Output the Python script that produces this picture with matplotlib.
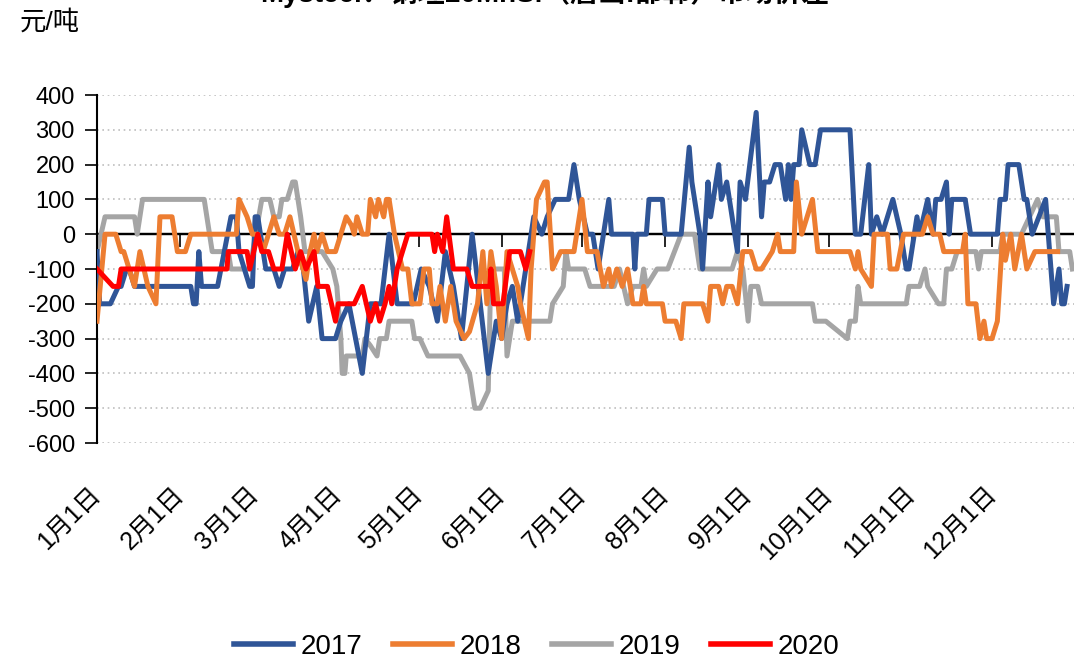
import matplotlib
matplotlib.use("Agg")
import matplotlib.pyplot as plt
from matplotlib.lines import Line2D

plt.rcParams['font.family'] = ['Liberation Sans', 'Noto Sans CJK SC', 'DejaVu Sans']
plt.rcParams['axes.unicode_minus'] = False

# x = day of year (0 = 1月1日), y = 元/吨
days_2017 = [0, 1, 5, 8, 9, 11, 12, 14, 35, 36, 37, 38, 39, 45, 50, 52, 53, 57, 58, 59, 60, 62, 63, 66,
             68, 70, 73, 75, 77, 79, 82, 84, 89, 91, 94, 99, 102, 106, 109, 112, 118, 121, 124, 127,
             130, 133, 136, 138, 140, 146, 149, 151, 153, 155, 157, 162, 163, 166, 168, 171, 176, 178,
             180, 183, 185, 187, 191, 192, 200, 200.7, 201.5, 205, 206, 211, 212, 218, 221, 222, 225,
             226, 228, 229, 232, 233, 235, 238, 239, 240, 242, 246, 248, 249, 251, 253, 255, 257, 258,
             259, 260, 262, 263, 266, 268, 270, 281, 283, 285, 288, 289, 291, 293, 297, 300, 302, 303,
             306, 307, 310, 312, 313, 315, 317, 318, 319, 324, 326, 336, 337, 339, 340, 344, 346, 347,
             349, 354, 357, 359, 360, 361, 362]
vals_2017 = [-50, -200, -200, -150, -150, -100, -100, -150, -150, -200, -200, -50, -150, -150, 50, 50,
             -50, -150, -150, 50, 50, -50, -100, -100, -150, -100, -100, -50, -100, -250, -150, -300,
             -300, -250, -200, -400, -200, -200, 0, -200, -200, -100, -150, -250, -50, -150, -300, -150,
             0, -400, -250, -300, -200, -150, -250, 0, 50, 0, 50, 100, 100, 200, 100, 0, 0, -100, 100,
             0, 0, -100, 0, 0, 100, 100, 0, 0, 250, 150, 0, -100, 150, 50, 200, 100, 150, 0, -50, 150,
             100, 350, 50, 150, 150, 200, 200, 100, 200, 100, 200, 200, 300, 200, 200, 300, 300, 0, 0,
             200, 0, 50, 0, 100, 0, -100, -100, 50, 0, 100, 0, 100, 100, 150, 0, 100, 100, 0, 0, 100,
             100, 200, 200, 100, 100, 0, 100, -200, -100, -200, -200, -150]

days_2018 = [0, 3, 7, 9, 10, 12, 14, 16, 19, 22, 23.5, 28, 30, 33, 35, 52, 53, 56, 58, 60, 62, 66, 68,
             70, 72, 75, 78, 79.5, 81, 82, 84, 86, 89, 93, 95, 96, 97, 99, 101, 102, 104, 105, 107, 108,
             109, 111, 114, 116, 117.5, 120.5, 122, 124, 125, 127, 128, 130, 132, 134, 137, 139, 142,
             144, 145.5, 147, 149, 151, 153, 157, 158, 161, 162, 164, 167, 168, 170, 173, 178, 181, 183,
             186.6, 189, 191, 192, 194, 196, 198, 200, 203, 204, 205, 211, 212, 216, 218, 219, 226, 228,
             229, 232, 233.5, 235, 237, 239, 241, 244, 246, 248, 252, 254, 255, 260, 261, 263, 267, 269,
             281, 283, 284, 285, 289, 290, 295, 296, 298.5, 301, 308, 310, 312, 314.5, 316, 323, 324,
             325, 328, 329.5, 331, 332, 334, 336, 338, 339, 341, 342.5, 345, 347, 350, 358.5]
vals_2018 = [-250, 0, 0, -50, -50, -100, -150, -50, -150, -200, 50, 50, -50, -50, 0, 0, 100, 50, 0, 0,
             -50, 50, 0, 0, 50, -50, -130, -50, 0, -50, 0, -50, -50, 50, 25, 0, 50, 0, 0, 100, 50, 100,
             50, 100, 100, 0, -100, -100, -200, -200, -100, -100, -200, -200, -150, -250, -150, -250,
             -300, -280, -200, -50, -200, -50, -150, -300, -50, -150, -200, -300, -100, 100, 150, 150,
             -100, -50, -50, 100, -50, -50, -150, -100, -150, -100, -150, -100, -200, -200, -150, -200,
             -200, -250, -250, -300, -200, -200, -250, -150, -150, -200, -150, -150, -200, -50, -50,
             -100, -100, -50, 0, -50, -50, 150, 0, 100, -50, -50, -100, -50, -100, -150, 0, 0, -100,
             -100, 0, 0, 50, 0, 0, -50, -50, 0, -200, -200, -300, -250, -300, -300, -250, 0, -75, 0,
             -100, 0, -100, -50, -50]

days_2019 = [0, 3, 14, 15, 17, 40, 43, 49, 50, 57, 61.5, 64.5, 66, 68, 69, 71, 73, 74, 76, 77.6, 84, 88,
             89.5, 91, 91.5, 92.5, 93, 99, 100, 102, 104.5, 105.5, 108, 109, 117.5, 118.5, 120.5, 123.5,
             135.5, 139, 141, 143, 146, 147, 152, 153, 155, 169, 170, 174, 175, 176, 182, 184, 193, 195,
             198, 200, 203, 204, 205, 209, 213, 218, 223, 225, 237, 239, 241, 243, 244, 246.6, 248, 267,
             268, 272, 280, 281, 283, 284, 285, 302, 303, 307, 309, 310, 314, 316, 317, 319, 321, 328,
             329, 330, 337, 338, 345, 348, 351, 353, 358, 359, 363, 364]
vals_2019 = [-50, 50, 50, 0, 100, 100, -50, -50, -100, -100, 100, 100, 50, 50, 100, 100, 150, 150, 50,
             -50, -50, -100, -150, -300, -400, -400, -350, -350, -300, -320, -350, -300, -300, -250,
             -250, -300, -300, -350, -350, -400, -500, -500, -450, -100, -100, -350, -250, -250, -200,
             -150, -50, -100, -100, -150, -150, -100, -200, -150, -150, -100, -150, -100, -100, 0, 0,
             -100, -100, -50, -100, -250, -150, -150, -200, -200, -250, -250, -300, -250, -250, -150,
             -200, -200, -150, -150, -100, -150, -200, -200, -100, -100, -50, -50, -100, -50, -50, 0, 0,
             50, 100, 50, 50, -50, -50, -100]

days_2020 = [0, 6, 8, 9, 48.5, 49, 56, 57, 60, 61.5, 64, 66, 69, 71, 74, 76, 78, 81, 82.5, 86, 89, 90,
             96, 99, 102, 104, 105.5, 107.5, 109, 110, 112, 114, 116, 125, 126, 127, 129, 130.5, 133,
             138, 140, 146.6, 147, 148, 151.5, 154, 158, 160, 161.5]
vals_2020 = [-100, -150, -150, -100, -100, -50, -50, -100, 0, -50, -50, -100, -100, 0, -100, -50, -100,
             -50, -150, -150, -250, -200, -200, -150, -250, -200, -250, -200, -150, -200, -100, -50, 0,
             0, -50, 0, -50, 50, -100, -100, -150, -150, -100, -200, -200, -50, -50, -100, -50]

month_days = [0, 31, 59, 90, 120, 151, 181, 212, 243, 273, 304, 334]
month_labels = ['1月1日', '2月1日', '3月1日', '4月1日', '5月1日', '6月1日', '7月1日',
                '8月1日', '9月1日', '10月1日', '11月1日', '12月1日']
y_ticks = list(range(-600, 401, 100))

series = [
    ('2017', days_2017, vals_2017, '#2F5597', 3),
    ('2018', days_2018, vals_2018, '#ED7D31', 4),
    ('2019', days_2019, vals_2019, '#A5A5A5', 2),
    ('2020', days_2020, vals_2020, '#FF0000', 5),
]

fig = plt.figure(figsize=(10.74, 6.6), dpi=100)
ax = fig.add_axes([97 / 1074, 1 - 443 / 660, 977 / 1074, 348 / 660])

for name, d, v, color, z in series:
    ax.plot(d, v, color=color, lw=3.6, zorder=z, solid_joinstyle='round')

ax.set_xlim(0, 364.6)
ax.set_ylim(-600, 400)
ax.set_yticks(y_ticks)
ax.yaxis.grid(True, linestyle=(0, (1, 2.2)), color='#bfbfbf', lw=1.2)
ax.set_axisbelow(True)
ax.axhline(0, color='black', lw=1.6, zorder=1.5)

for s in ['top', 'right', 'bottom']:
    ax.spines[s].set_visible(False)
ax.spines['left'].set_color('black')
ax.spines['left'].set_linewidth(1.5)
ax.tick_params(axis='y', direction='out', length=9, width=1.2, pad=7, labelsize=17)

ax.set_xticks(month_days)
ax.set_xticklabels(month_labels, rotation=45, ha='right', va='center',
                   rotation_mode='anchor', fontsize=18)
ax.tick_params(axis='x', length=0, pad=34)

# zero line as category axis with tick marks
sec = ax.secondary_xaxis(0, transform=ax.transData)
sec.set_xticks(month_days)
sec.tick_params(axis='x', direction='out', length=9, width=1.2, labelbottom=False, labeltop=False)
sec.spines['bottom'].set_linewidth(1.6)
sec.spines['bottom'].set_color('black')

fig.text(0.507, 1 - 2 / 660, 'Mysteel：钢坯20MnSi（唐山:邯郸）市场价差', ha='center',
         va='baseline', fontsize=20, fontweight='bold')
fig.text(0.018, 1 - 22 / 660, '元/吨', ha='left', va='center', fontsize=19)

handles = [Line2D([], [], color=c, lw=4) for _, _, _, c, _ in series]
fig.legend(handles, [n for n, *_ in series], loc='lower center', bbox_to_anchor=(0.5, -0.038),
           ncol=4, frameon=False, fontsize=20, handlelength=2.1, handletextpad=0.3,
           columnspacing=1.1)

fig.savefig('out.png', dpi=100)
